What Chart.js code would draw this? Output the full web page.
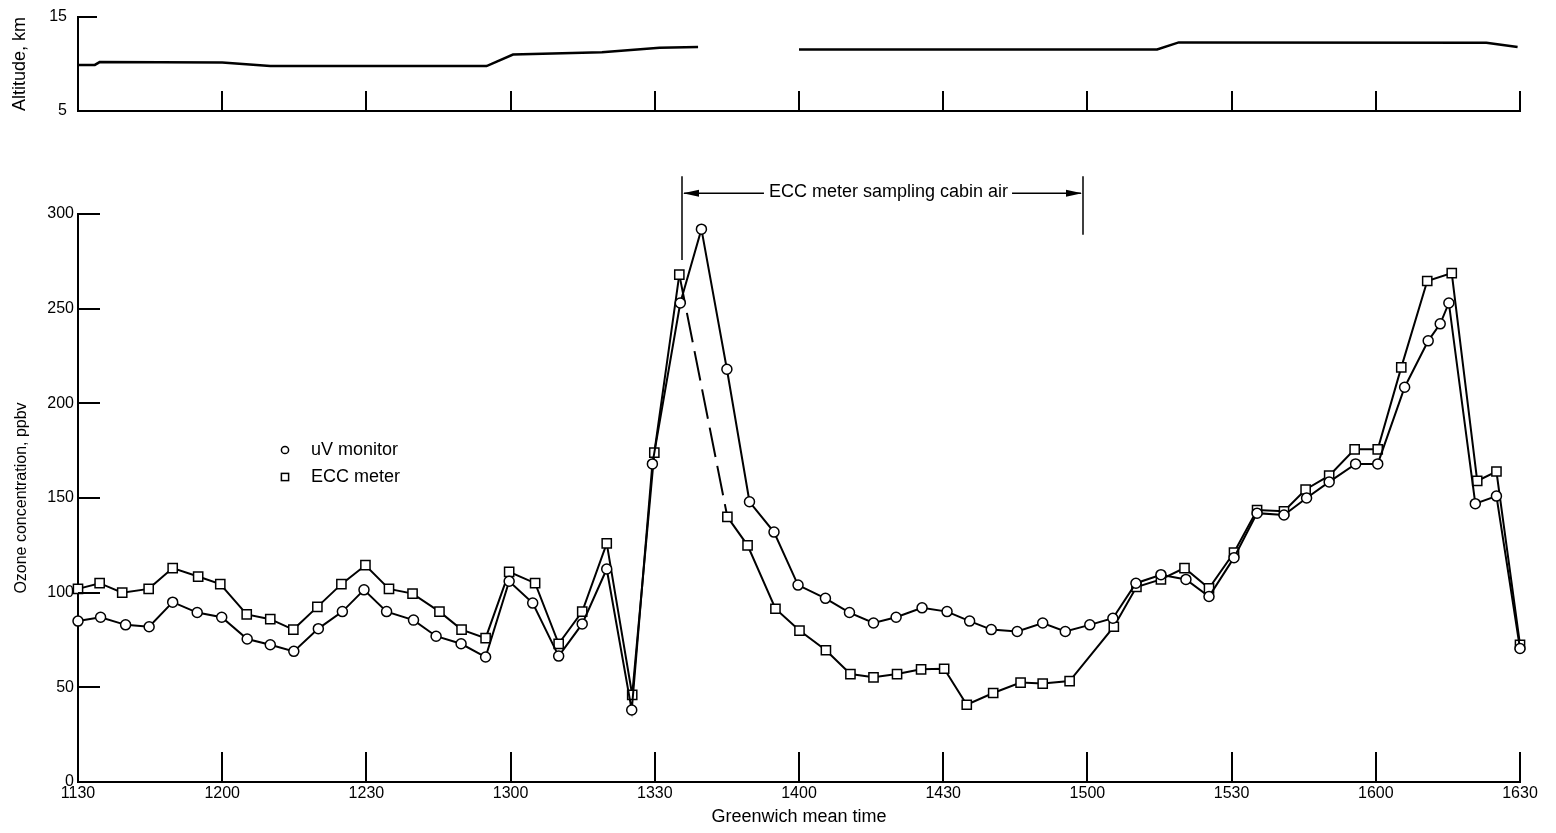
<!DOCTYPE html>
<html>
<head>
<meta charset="utf-8">
<title>Ozone concentration and altitude vs Greenwich mean time</title>
<script src="https://cdn.jsdelivr.net/npm/chart.js@4.4.1/dist/chart.umd.min.js"></script>
<style>
  html, body { margin: 0; padding: 0; background: #fff; }
  .panel { position: absolute; left: 0; }
  #altPanel { top: 0; width: 1556px; height: 125px; }
  #ozonePanel { top: 125px; width: 1556px; height: 708px; }
</style>
</head>
<body>
<div id="altPanel" class="panel"><canvas id="altChart" width="1556" height="125"></canvas></div>
<div id="ozonePanel" class="panel"><canvas id="ozoneChart" width="1556" height="708"></canvas></div>
<script>
// tick labels for the time axis (every 30 min, starting 1130 GMT)
const timeLabels = ['1130', '1200', '1230', '1300', '1330', '1400', '1430', '1500', '1530', '1600', '1630'];
const altTicks = [5, 15];

// minutes after 1130 GMT
const uvMin = [0, 4.7, 9.9, 14.8, 19.7, 24.8, 29.9, 35.2, 40.0, 44.9, 50.0, 55.0, 59.5, 64.2, 69.8,
  74.5, 79.7, 84.8, 89.7, 94.6, 100.0, 104.9, 110.0, 115.2, 119.5, 125.3, 129.7, 135.0, 139.7,
  144.8, 149.8, 155.5, 160.5, 165.5, 170.2, 175.6, 180.8, 185.5, 190.0, 195.4, 200.7, 205.4,
  210.5, 215.3, 220.1, 225.3, 230.5, 235.3, 240.5, 245.3, 250.9, 255.6, 260.3, 265.8, 270.4,
  276.0, 280.9, 283.4, 285.2, 290.7, 295.1, 300.0];
const uvPpbv = [85, 87, 83, 82, 95, 89.5, 87, 75.5, 72.5, 69, 81, 90, 101.5, 90, 85.5,
  77, 73, 66, 106, 94.5, 66.5, 83.5, 112.5, 38, 168, 253, 292, 218, 148,
  132, 104, 97, 89.5, 84, 87, 92, 90, 85, 80.5, 79.5, 84, 79.5,
  83, 86.5, 105, 109.5, 107, 98, 118.5, 142, 141, 150, 158.5, 168, 168,
  208.5, 233, 242, 253, 147, 151, 70.5];

const eccMin = [0, 4.5, 9.2, 14.7, 19.7, 25.0, 29.6, 35.1, 40.0, 44.8, 49.8, 54.8, 59.8, 64.7, 69.6,
  75.2, 79.8, 84.8, 89.7, 95.1, 100.0, 104.9, 110.0, 115.3, 119.9, 125.1, 135.1, 139.3, 145.1,
  150.1, 155.6, 160.7, 165.5, 170.4, 175.4, 180.2, 184.9, 190.4, 196.1, 200.7, 206.3,
  215.5, 220.2, 225.3, 230.2, 235.3, 240.5, 245.3, 250.9, 255.4, 260.3, 265.6, 270.4,
  275.3, 280.7, 285.8, 291.1, 295.1, 300.0];
const eccPpbv = [102, 105, 100, 102, 113, 108.5, 104.5, 88.5, 86, 80.5, 92.5, 104.5, 114.5, 102, 99.5,
  90, 80.5, 76, 111, 105, 73, 90, 126, 46, 174, 268, 140, 125, 91.5,
  80, 69.6, 57, 55.3, 57, 59.5, 59.8, 40.8, 47, 52.5, 52, 53.3,
  82, 103, 107, 113, 102.3, 121.2, 143.6, 143, 154.5, 161.8, 175.7, 175.7,
  219, 264.6, 268.8, 159, 164, 72.5];
// ECC line is dashed from this point to the next one
const eccDashFrom = 25;

// aircraft altitude (null = no record)
const altMin = [0, 3.5, 4.5, 30, 40, 85, 90.5, 109, 121, 129, 140, 150, 224.5, 229, 293, 299.5];
const altKm = [9.9, 9.9, 10.2, 10.15, 9.78, 9.78, 11.0, 11.25, 11.72, 11.8, null, 11.55, 11.55, 12.3, 12.25, 11.8];

// period when the ECC meter sampled cabin air (minutes after 1130)
const cabinStart = 125.6;
const cabinEnd = 209.0;

const FONT = "'Liberation Sans', Arial, sans-serif";
Chart.defaults.font.family = FONT;
Chart.defaults.color = '#000';

const pts = (xs, ys) => xs.map((x, i) => ({ x: x, y: ys[i] }));

// tick marks drawn into the plot area, as on the original figure
const inwardTicks = {
  id: 'inwardTicks',
  afterDatasetsDraw(chart, args, opts) {
    const { ctx, chartArea, scales: { x, y } } = chart;
    ctx.save();
    ctx.strokeStyle = '#000';
    ctx.lineWidth = 2;
    ctx.beginPath();
    x.ticks.forEach(t => {
      if (t.value === x.min) return;
      const px = Math.round(x.getPixelForValue(t.value));
      ctx.moveTo(px, chartArea.bottom);
      ctx.lineTo(px, chartArea.bottom - opts.xLen);
    });
    y.ticks.forEach(t => {
      if (t.value === y.min) return;
      const py = Math.round(y.getPixelForValue(t.value));
      ctx.moveTo(chartArea.left, py);
      ctx.lineTo(chartArea.left + opts.yLen, py);
    });
    ctx.stroke();
    ctx.restore();
  }
};

const legendBox = {
  id: 'legendBox',
  afterDraw(chart) {
    const { ctx, chartArea } = chart;
    const x0 = chartArea.left + 207;
    const y0 = chartArea.top + 236;
    ctx.save();
    ctx.strokeStyle = '#000';
    ctx.lineWidth = 1.5;
    ctx.fillStyle = '#000';
    ctx.beginPath();
    ctx.arc(x0, y0, 3.6, 0, Math.PI * 2);
    ctx.stroke();
    ctx.strokeRect(x0 - 3.6, y0 + 27 - 3.6, 7.2, 7.2);
    ctx.font = '18px ' + FONT;
    ctx.textBaseline = 'middle';
    ctx.fillText('uV monitor', x0 + 26, y0);
    ctx.fillText('ECC meter', x0 + 26, y0 + 27);
    ctx.restore();
  }
};

const cabinAir = {
  id: 'cabinAir',
  afterDraw(chart) {
    const { ctx, scales: { x, y } } = chart;
    const xl = Math.round(x.getPixelForValue(cabinStart));
    const xr = Math.round(x.getPixelForValue(cabinEnd));
    const yTop = y.getPixelForValue(320);
    const yArr = y.getPixelForValue(311);
    const yl = y.getPixelForValue(275.7);
    const yr = y.getPixelForValue(289);
    const text = 'ECC meter sampling cabin air';
    ctx.save();
    ctx.strokeStyle = '#000';
    ctx.fillStyle = '#000';
    ctx.lineWidth = 1.5;
    ctx.font = '18px ' + FONT;
    ctx.textBaseline = 'middle';
    ctx.textAlign = 'center';
    const w = ctx.measureText(text).width;
    const xc = (xl + xr) / 2 + 6;
    ctx.fillText(text, xc, yArr - 1);
    ctx.beginPath();
    ctx.moveTo(xl, yTop); ctx.lineTo(xl, yl);
    ctx.moveTo(xr, yTop); ctx.lineTo(xr, yr);
    ctx.moveTo(xc - w / 2 - 5, yArr); ctx.lineTo(xl + 2, yArr);
    ctx.moveTo(xc + w / 2 + 4, yArr); ctx.lineTo(xr - 2, yArr);
    ctx.stroke();
    // arrow heads
    ctx.beginPath();
    ctx.moveTo(xl + 1, yArr); ctx.lineTo(xl + 17, yArr - 3.5); ctx.lineTo(xl + 17, yArr + 3.5); ctx.closePath();
    ctx.moveTo(xr - 1, yArr); ctx.lineTo(xr - 17, yArr - 3.5); ctx.lineTo(xr - 17, yArr + 3.5); ctx.closePath();
    ctx.fill();
    ctx.restore();
  }
};

const timeAxis = (height, showLabels, title) => ({
  type: 'linear',
  min: 0,
  max: 300,
  afterFit: s => { s.height = height; },
  grid: { display: false, drawTicks: false },
  border: { display: true, color: '#000', width: 2 },
  ticks: {
    display: showLabels,
    stepSize: 30,
    padding: 2,
    font: { size: 16 },
    maxRotation: 0,
    autoSkip: false,
    callback: v => timeLabels[Math.round(v / 30)]
  },
  title: title ? { display: true, text: title, font: { size: 18 }, padding: { top: 0, bottom: 5.5 } } : { display: false }
});

// altitude panel
new Chart(document.getElementById('altChart'), {
  type: 'line',
  data: {
    datasets: [{
      data: pts(altMin, altKm),
      borderColor: '#000',
      borderWidth: 2.5,
      pointRadius: 0,
      tension: 0,
      spanGaps: false
    }]
  },
  options: {
    responsive: false,
    animation: false,
    devicePixelRatio: 1,
    layout: { padding: { top: 17, right: 36, left: 0, bottom: 0 } },
    plugins: { legend: { display: false }, tooltip: { enabled: false }, inwardTicks: { xLen: 20, yLen: 19 } },
    scales: {
      x: timeAxis(14, false, null),
      y: {
        min: 5,
        max: 15,
        afterBuildTicks: s => { s.ticks = altTicks.map(v => ({ value: v })); },
        afterFit: s => { s.width = 78; s.paddingTop = 0; s.paddingBottom = 0; },
        grid: { display: false, drawTicks: false },
        border: { display: true, color: '#000', width: 2 },
        ticks: { padding: 11, font: { size: 16 } },
        title: { display: true, text: 'Altitude, km', font: { size: 18 }, padding: { top: 9, bottom: 0 } }
      }
    }
  },
  plugins: [inwardTicks]
});

// ozone panel
new Chart(document.getElementById('ozoneChart'), {
  type: 'line',
  data: {
    datasets: [{
      label: 'uV monitor',
      data: pts(uvMin, uvPpbv),
      borderColor: '#000',
      borderWidth: 2,
      pointStyle: 'circle',
      pointRadius: 5,
      pointBorderWidth: 1.5,
      pointBackgroundColor: '#fff',
      pointBorderColor: '#000',
      tension: 0,
      clip: false
    }, {
      label: 'ECC meter',
      data: pts(eccMin, eccPpbv),
      borderColor: '#000',
      borderWidth: 2,
      pointStyle: 'rect',
      pointRadius: 6.5,
      pointBorderWidth: 1.5,
      pointBackgroundColor: '#fff',
      pointBorderColor: '#000',
      tension: 0,
      clip: false,
      segment: { borderDash: ctx => ctx.p0DataIndex === eccDashFrom ? [30, 9] : undefined }
    }]
  },
  options: {
    responsive: false,
    animation: false,
    devicePixelRatio: 1,
    layout: { padding: { top: 89, right: 36, left: 0, bottom: 0 } },
    plugins: { legend: { display: false }, tooltip: { enabled: false }, inwardTicks: { xLen: 30, yLen: 22 } },
    scales: {
      x: timeAxis(51, true, 'Greenwich mean time'),
      y: {
        min: 0,
        max: 300,
        afterFit: s => { s.width = 78; },
        grid: { display: false, drawTicks: false },
        border: { display: true, color: '#000', width: 2 },
        ticks: { stepSize: 50, padding: 4, font: { size: 16 } },
        title: { display: true, text: 'Ozone concentration, ppbv', font: { size: 16 }, padding: { top: 12, bottom: 0 } }
      }
    }
  },
  plugins: [inwardTicks, legendBox, cabinAir]
});
</script>
</body>
</html>
